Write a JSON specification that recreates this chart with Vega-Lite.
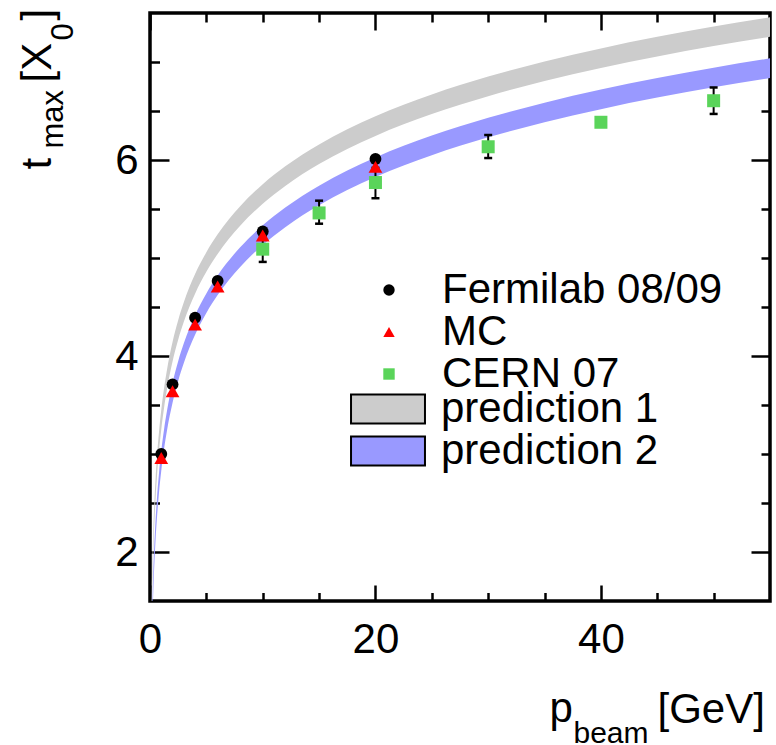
{
  "$schema": "https://vega.github.io/schema/vega-lite/v6.json",
  "width": 620,
  "height": 588,
  "autosize": "none",
  "padding": {"left": 150, "top": 13, "right": 6, "bottom": 144},
  "background": "white",
  "config": {
    "view": {"stroke": "black", "strokeWidth": 3.5},
    "font": "Liberation Sans",
    "axis": {
      "domain": false, "grid": false, "tickColor": "black", "tickWidth": 2.5,
      "labelFont": "Liberation Sans", "labelFontSize": 42, "labelColor": "black",
      "titleFont": "Liberation Sans", "titleColor": "black", "titleFontWeight": "normal",
      "labelFlush": false, "labelOverlap": false, "labelBound": false
    },
    "legend": {"labelFont": "Liberation Sans", "labelColor": "black", "labelLimit": 500, "padding": 0}
  },
  "datasets": {
    "gray": [
      {"band": "prediction 1", "x": 0.12, "lo": 1.13, "hi": 1.33},
      {"band": "prediction 1", "x": 0.15, "lo": 1.353, "hi": 1.553},
      {"band": "prediction 1", "x": 0.2, "lo": 1.641, "hi": 1.841},
      {"band": "prediction 1", "x": 0.25, "lo": 1.864, "hi": 2.064},
      {"band": "prediction 1", "x": 0.3, "lo": 2.046, "hi": 2.246},
      {"band": "prediction 1", "x": 0.4, "lo": 2.334, "hi": 2.534},
      {"band": "prediction 1", "x": 0.5, "lo": 2.557, "hi": 2.757},
      {"band": "prediction 1", "x": 0.6, "lo": 2.739, "hi": 2.939},
      {"band": "prediction 1", "x": 0.8, "lo": 3.027, "hi": 3.227},
      {"band": "prediction 1", "x": 1, "lo": 3.25, "hi": 3.45},
      {"band": "prediction 1", "x": 1.25, "lo": 3.473, "hi": 3.673},
      {"band": "prediction 1", "x": 1.5, "lo": 3.655, "hi": 3.855},
      {"band": "prediction 1", "x": 2, "lo": 3.943, "hi": 4.143},
      {"band": "prediction 1", "x": 2.5, "lo": 4.166, "hi": 4.366},
      {"band": "prediction 1", "x": 3, "lo": 4.349, "hi": 4.549},
      {"band": "prediction 1", "x": 4, "lo": 4.636, "hi": 4.836},
      {"band": "prediction 1", "x": 5, "lo": 4.859, "hi": 5.059},
      {"band": "prediction 1", "x": 6, "lo": 5.042, "hi": 5.242},
      {"band": "prediction 1", "x": 8, "lo": 5.329, "hi": 5.529},
      {"band": "prediction 1", "x": 10, "lo": 5.553, "hi": 5.753},
      {"band": "prediction 1", "x": 12, "lo": 5.735, "hi": 5.935},
      {"band": "prediction 1", "x": 15, "lo": 5.958, "hi": 6.158},
      {"band": "prediction 1", "x": 20, "lo": 6.246, "hi": 6.446},
      {"band": "prediction 1", "x": 25, "lo": 6.469, "hi": 6.669},
      {"band": "prediction 1", "x": 30, "lo": 6.651, "hi": 6.851},
      {"band": "prediction 1", "x": 35, "lo": 6.805, "hi": 7.005},
      {"band": "prediction 1", "x": 40, "lo": 6.939, "hi": 7.139},
      {"band": "prediction 1", "x": 45, "lo": 7.057, "hi": 7.257},
      {"band": "prediction 1", "x": 50, "lo": 7.162, "hi": 7.362},
      {"band": "prediction 1", "x": 55, "lo": 7.257, "hi": 7.457}
    ],
    "blue": [
      {"band": "prediction 2", "x": 0.2, "lo": 1.221, "hi": 1.421},
      {"band": "prediction 2", "x": 0.25, "lo": 1.444, "hi": 1.644},
      {"band": "prediction 2", "x": 0.3, "lo": 1.626, "hi": 1.826},
      {"band": "prediction 2", "x": 0.4, "lo": 1.914, "hi": 2.114},
      {"band": "prediction 2", "x": 0.5, "lo": 2.137, "hi": 2.337},
      {"band": "prediction 2", "x": 0.6, "lo": 2.319, "hi": 2.519},
      {"band": "prediction 2", "x": 0.8, "lo": 2.607, "hi": 2.807},
      {"band": "prediction 2", "x": 1, "lo": 2.83, "hi": 3.03},
      {"band": "prediction 2", "x": 1.25, "lo": 3.053, "hi": 3.253},
      {"band": "prediction 2", "x": 1.5, "lo": 3.235, "hi": 3.435},
      {"band": "prediction 2", "x": 2, "lo": 3.523, "hi": 3.723},
      {"band": "prediction 2", "x": 2.5, "lo": 3.746, "hi": 3.946},
      {"band": "prediction 2", "x": 3, "lo": 3.929, "hi": 4.129},
      {"band": "prediction 2", "x": 4, "lo": 4.216, "hi": 4.416},
      {"band": "prediction 2", "x": 5, "lo": 4.439, "hi": 4.639},
      {"band": "prediction 2", "x": 6, "lo": 4.622, "hi": 4.822},
      {"band": "prediction 2", "x": 8, "lo": 4.909, "hi": 5.109},
      {"band": "prediction 2", "x": 10, "lo": 5.133, "hi": 5.333},
      {"band": "prediction 2", "x": 12, "lo": 5.315, "hi": 5.515},
      {"band": "prediction 2", "x": 15, "lo": 5.538, "hi": 5.738},
      {"band": "prediction 2", "x": 20, "lo": 5.826, "hi": 6.026},
      {"band": "prediction 2", "x": 25, "lo": 6.049, "hi": 6.249},
      {"band": "prediction 2", "x": 30, "lo": 6.231, "hi": 6.431},
      {"band": "prediction 2", "x": 35, "lo": 6.385, "hi": 6.585},
      {"band": "prediction 2", "x": 40, "lo": 6.519, "hi": 6.719},
      {"band": "prediction 2", "x": 45, "lo": 6.637, "hi": 6.837},
      {"band": "prediction 2", "x": 50, "lo": 6.742, "hi": 6.942},
      {"band": "prediction 2", "x": 55, "lo": 6.837, "hi": 7.037}
    ],
    "cernerr": [
      {"x": 10, "lo": 4.96, "hi": 5.22},
      {"x": 15, "lo": 5.35, "hi": 5.585},
      {"x": 20, "lo": 5.61, "hi": 5.92},
      {"x": 30, "lo": 6.02, "hi": 6.255},
      {"x": 50, "lo": 6.47, "hi": 6.74}
    ],
    "fermilab": [
      {"series": "Fermilab 08/09", "x": 1, "y": 3.0},
      {"series": "Fermilab 08/09", "x": 2, "y": 3.71},
      {"series": "Fermilab 08/09", "x": 4, "y": 4.39},
      {"series": "Fermilab 08/09", "x": 6, "y": 4.765},
      {"series": "Fermilab 08/09", "x": 10, "y": 5.27},
      {"series": "Fermilab 08/09", "x": 20, "y": 6.01}
    ],
    "mc": [
      {"series": "MC", "x": 1, "y": 2.96},
      {"series": "MC", "x": 2, "y": 3.64},
      {"series": "MC", "x": 4, "y": 4.32},
      {"series": "MC", "x": 6, "y": 4.71},
      {"series": "MC", "x": 10, "y": 5.23},
      {"series": "MC", "x": 20, "y": 5.93}
    ],
    "cern": [
      {"series": "CERN 07", "x": 10, "y": 5.09},
      {"series": "CERN 07", "x": 15, "y": 5.46},
      {"series": "CERN 07", "x": 20, "y": 5.77},
      {"series": "CERN 07", "x": 30, "y": 6.135},
      {"series": "CERN 07", "x": 40, "y": 6.385},
      {"series": "CERN 07", "x": 50, "y": 6.605}
    ]
  },
  "resolve": {"axis": {"x": "independent", "y": "independent"}},
  "layer": [
    {
      "data": {"name": "gray"},
      "mark": {"type": "area", "opacity": 1, "clip": true, "interpolate": "monotone"},
      "encoding": {
        "x": {"field": "x", "type": "quantitative", "scale": {"domain": [0, 55], "nice": false, "zero": false},
          "axis": {"orient": "bottom", "values": [0, 20, 40], "format": "d", "tickSize": -16, "labelPadding": 34,
            "title": "p", "titleFontSize": 42, "titleX": 399, "titleY": 120, "titleAlign": "left", "titleBaseline": "alphabetic", "titleAngle": 0}},
        "y": {"field": "lo", "type": "quantitative", "scale": {"domain": [1.5, 7.5], "nice": false, "zero": false},
          "axis": {"orient": "left", "values": [2, 4, 6], "format": "d", "tickSize": -19, "labelPadding": 31,
            "title": "t", "titleFontSize": 42, "titleX": -100, "titleY": 156, "titleAlign": "left", "titleBaseline": "alphabetic", "titleAngle": 270}},
        "y2": {"field": "hi"},
        "fill": {"field": "band", "type": "nominal",
          "scale": {"domain": ["prediction 1", "prediction 2"], "range": ["#cccccc", "#9999ff"]},
          "legend": {"orient": "none", "legendX": 217, "legendY": 375, "title": null, "labelFontSize": 42, "labelOffset": 32,
            "symbolType": "M-2.55,-1H2.55V1H-2.55Z", "symbolSize": 841, "rowPadding": -4,
            "symbolStrokeColor": "black", "symbolStrokeWidth": 2,
            "encode": {"symbols": {"update": {"stroke": {"value": "black"}, "strokeWidth": {"value": 2}, "opacity": {"value": 1}, "strokeOpacity": {"value": 1}}}}}}
      }
    },
    {
      "data": {"name": "blue"},
      "mark": {"type": "area", "opacity": 1, "clip": true, "interpolate": "monotone"},
      "encoding": {
        "x": {"field": "x", "type": "quantitative", "scale": {"domain": [0, 55], "nice": false, "zero": false},
          "axis": {"orient": "bottom", "values": [5, 10, 15, 25, 30, 35, 45, 50], "tickSize": -8.5, "labels": false,
            "title": "beam", "titleFontSize": 30, "titleX": 423, "titleY": 141, "titleAlign": "left", "titleBaseline": "alphabetic", "titleAngle": 0}},
        "y": {"field": "lo", "type": "quantitative", "scale": {"domain": [1.5, 7.5], "nice": false, "zero": false},
          "axis": {"orient": "left", "values": [2.5, 3, 3.5, 4.5, 5, 5.5, 6.5, 7], "tickSize": -9.5, "labels": false,
            "title": "max", "titleFontSize": 31, "titleX": -88, "titleY": 135, "titleAlign": "left", "titleBaseline": "alphabetic", "titleAngle": 270}},
        "y2": {"field": "hi"},
        "fill": {"field": "band", "type": "nominal",
          "scale": {"domain": ["prediction 1", "prediction 2"], "range": ["#cccccc", "#9999ff"]},
          "legend": {"orient": "none", "legendX": 217, "legendY": 375, "title": null, "labelFontSize": 42, "labelOffset": 32,
            "symbolType": "M-2.55,-1H2.55V1H-2.55Z", "symbolSize": 841, "rowPadding": -4,
            "symbolStrokeColor": "black", "symbolStrokeWidth": 2,
            "encode": {"symbols": {"update": {"stroke": {"value": "black"}, "strokeWidth": {"value": 2}, "opacity": {"value": 1}, "strokeOpacity": {"value": 1}}}}}}
      }
    },
    {
      "data": {"name": "cernerr"},
      "mark": {"type": "rule", "color": "black", "strokeWidth": 2},
      "encoding": {
        "x": {"field": "x", "type": "quantitative", "scale": {"domain": [0, 55], "nice": false, "zero": false},
          "axis": {"orient": "bottom", "ticks": false, "labels": false,
            "title": "[GeV]", "titleFontSize": 42, "titleX": 507, "titleY": 121, "titleAlign": "left", "titleBaseline": "alphabetic", "titleAngle": 0}},
        "y": {"field": "lo", "type": "quantitative", "scale": {"domain": [1.5, 7.5], "nice": false, "zero": false},
          "axis": {"orient": "left", "ticks": false, "labels": false,
            "title": "[X", "titleFontSize": 42, "titleX": -100, "titleY": 69, "titleAlign": "left", "titleBaseline": "alphabetic", "titleAngle": 270}},
        "y2": {"field": "hi"}
      }
    },
    {
      "data": {"name": "cernerr"},
      "mark": {"type": "tick", "orient": "horizontal", "color": "black", "size": 8, "thickness": 2.5, "opacity": 1},
      "encoding": {
        "x": {"field": "x", "type": "quantitative", "scale": {"domain": [0, 55], "nice": false, "zero": false},
          "axis": {"orient": "top", "values": [0, 20, 40], "tickSize": -17, "labels": false, "title": null}},
        "y": {"field": "hi", "type": "quantitative", "scale": {"domain": [1.5, 7.5], "nice": false, "zero": false},
          "axis": {"orient": "left", "ticks": false, "labels": false,
            "title": "0", "titleFontSize": 31, "titleX": -78, "titleY": 27, "titleAlign": "left", "titleBaseline": "alphabetic", "titleAngle": 270}}
      }
    },
    {
      "data": {"name": "cernerr"},
      "mark": {"type": "tick", "orient": "horizontal", "color": "black", "size": 8, "thickness": 2.5, "opacity": 1},
      "encoding": {
        "x": {"field": "x", "type": "quantitative", "scale": {"domain": [0, 55], "nice": false, "zero": false},
          "axis": {"orient": "top", "values": [5, 10, 15, 25, 30, 35, 45, 50], "tickSize": -9, "labels": false, "title": null}},
        "y": {"field": "lo", "type": "quantitative", "scale": {"domain": [1.5, 7.5], "nice": false, "zero": false},
          "axis": {"orient": "left", "ticks": false, "labels": false,
            "title": "]", "titleFontSize": 42, "titleX": -100, "titleY": 7, "titleAlign": "left", "titleBaseline": "alphabetic", "titleAngle": 270}}
      }
    },
    {
      "data": {"name": "fermilab"},
      "mark": {"type": "point", "filled": true, "opacity": 1, "size": 140},
      "encoding": {
        "x": {"field": "x", "type": "quantitative", "scale": {"domain": [0, 55], "nice": false, "zero": false}, "axis": null},
        "y": {"field": "y", "type": "quantitative", "scale": {"domain": [1.5, 7.5], "nice": false, "zero": false},
          "axis": {"orient": "right", "values": [2, 4, 6], "tickSize": -19, "labels": false, "title": null}},
        "color": {"field": "series", "type": "nominal",
          "scale": {"domain": ["Fermilab 08/09", "MC", "CERN 07"], "range": ["black", "#ff0000", "#5ad45a"]},
          "legend": {"orient": "none", "legendX": 218, "legendY": 256, "title": null, "labelFontSize": 42, "labelOffset": 32, "symbolSize": 130, "rowPadding": -4}},
        "shape": {"field": "series", "type": "nominal",
          "scale": {"domain": ["Fermilab 08/09", "MC", "CERN 07"], "range": ["circle", "triangle-up", "square"]},
          "legend": {"orient": "none", "legendX": 218, "legendY": 256, "title": null, "labelFontSize": 42, "labelOffset": 32, "symbolSize": 130, "rowPadding": -4}}
      }
    },
    {
      "data": {"name": "mc"},
      "mark": {"type": "point", "filled": true, "opacity": 1, "size": 190},
      "encoding": {
        "x": {"field": "x", "type": "quantitative", "scale": {"domain": [0, 55], "nice": false, "zero": false}, "axis": null},
        "y": {"field": "y", "type": "quantitative", "scale": {"domain": [1.5, 7.5], "nice": false, "zero": false},
          "axis": {"orient": "right", "values": [2.5, 3, 3.5, 4.5, 5, 5.5, 6.5, 7], "tickSize": -9, "labels": false, "title": null}},
        "color": {"field": "series", "type": "nominal",
          "scale": {"domain": ["Fermilab 08/09", "MC", "CERN 07"], "range": ["black", "#ff0000", "#5ad45a"]},
          "legend": {"orient": "none", "legendX": 218, "legendY": 256, "title": null, "labelFontSize": 42, "labelOffset": 32, "symbolSize": 130, "rowPadding": -4}},
        "shape": {"field": "series", "type": "nominal",
          "scale": {"domain": ["Fermilab 08/09", "MC", "CERN 07"], "range": ["circle", "triangle-up", "square"]},
          "legend": {"orient": "none", "legendX": 218, "legendY": 256, "title": null, "labelFontSize": 42, "labelOffset": 32, "symbolSize": 130, "rowPadding": -4}}
      }
    },
    {
      "data": {"name": "cern"},
      "mark": {"type": "point", "filled": true, "opacity": 1, "size": 169},
      "encoding": {
        "x": {"field": "x", "type": "quantitative", "scale": {"domain": [0, 55], "nice": false, "zero": false}, "axis": null},
        "y": {"field": "y", "type": "quantitative", "scale": {"domain": [1.5, 7.5], "nice": false, "zero": false}, "axis": null},
        "color": {"field": "series", "type": "nominal",
          "scale": {"domain": ["Fermilab 08/09", "MC", "CERN 07"], "range": ["black", "#ff0000", "#5ad45a"]},
          "legend": {"orient": "none", "legendX": 218, "legendY": 256, "title": null, "labelFontSize": 42, "labelOffset": 32, "symbolSize": 130, "rowPadding": -4}},
        "shape": {"field": "series", "type": "nominal",
          "scale": {"domain": ["Fermilab 08/09", "MC", "CERN 07"], "range": ["circle", "triangle-up", "square"]},
          "legend": {"orient": "none", "legendX": 218, "legendY": 256, "title": null, "labelFontSize": 42, "labelOffset": 32, "symbolSize": 130, "rowPadding": -4}}
      }
    }
  ]
}
